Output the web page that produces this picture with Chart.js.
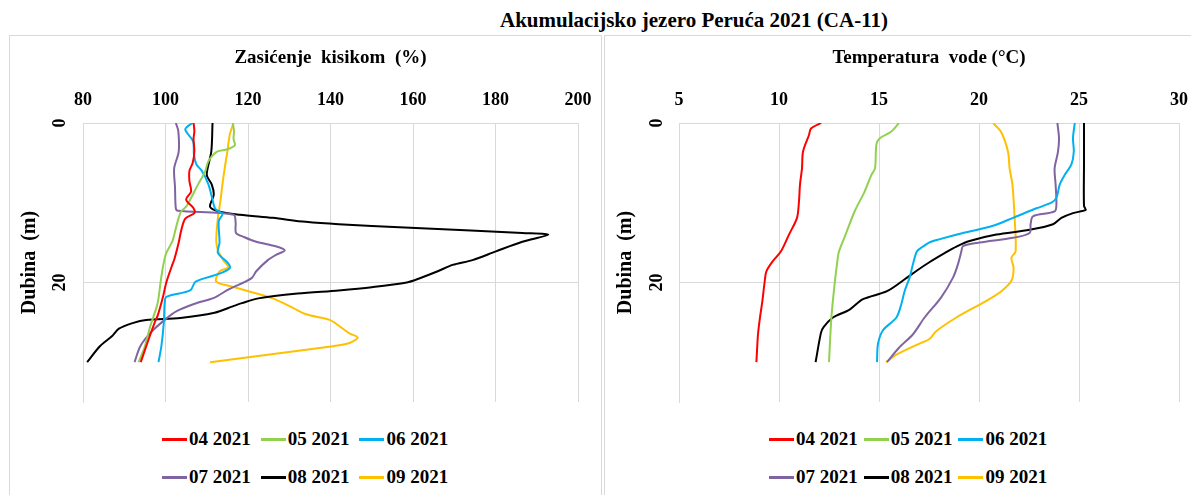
<!DOCTYPE html>
<html>
<head>
<meta charset="utf-8">
<script src="https://cdn.jsdelivr.net/npm/chart.js@4.4.1/dist/chart.umd.min.js"></script>
<style>
  body { margin: 0; width: 1191px; height: 495px; background: #fff; overflow: hidden; position: relative;
         font-family: "Liberation Serif", "Times New Roman", serif; }
  #title { position: absolute; left: 444px; width: 500px; top: 8px; text-align: center; font-weight: bold; font-size: 21px; }
  .panel { position: absolute; top: 35px; height: 480px; border: 1px solid #d9d9d9; box-sizing: border-box; }
  canvas { position: absolute; top: 35px; }
  .legend { position: absolute; top: 427px; display: grid; grid-template-columns: repeat(3, auto);
            justify-content: center; row-gap: 14px; font-weight: bold; font-size: 19px; line-height: 24px; }
  .legend .item { display: flex; align-items: center; white-space: nowrap; }
  .legend i { display: inline-block; width: 25px; height: 3px; margin-right: 2px; }
</style>
</head>
<body>
<div id="title">Akumulacijsko jezero Peruća 2021 (CA-11)</div>
<div class="panel" style="left:9px; width:593px;"></div>
<div class="panel" style="left:604px; width:600px;"></div>
<canvas id="chart-oxygen" width="592" height="375" style="left:9px;"></canvas>
<canvas id="chart-temp" width="587" height="375" style="left:604px;"></canvas>
<div class="legend" id="legend-oxygen" style="left:9px; width:592px; column-gap:10px;"></div>
<div class="legend" id="legend-temp" style="left:608px; width:600px; column-gap:6px;"></div>

<script>
// --- Sarjat ---
const seriesNames = ["04 2021", "05 2021", "06 2021", "07 2021", "08 2021", "09 2021"];
const seriesColors = ["#ff0000", "#92d050", "#00b0f0", "#8064a2", "#000000", "#ffc000"];

const oxyTicks = [80, 100, 120, 140, 160, 180, 200];
const tempTicks = [5, 10, 15, 20, 25, 30];
const depthTicks = [0, 20];

// --- Zasićenje kisikom (%) ---
const oxyDepth04 = [0, 1, 2, 3.5, 5, 6, 7.3, 8.6, 9.6, 10.7, 11.3, 12, 13.5, 15, 17, 18, 20, 22, 24, 25, 27, 28.5, 30];
const oxy04 = [106.8, 107.0, 106.8, 107.0, 106.6, 105.8, 105.8, 106.2, 105.0, 106.8, 107.0, 104.8, 103.8, 103.2, 102.2, 101.5, 100.2, 99.3, 98.2, 97.4, 96.0, 95.0, 94.0];

const oxyDepth05 = [0, 1, 2, 2.8, 3.3, 3.6, 4.8, 6.1, 7.7, 9.4, 10.5, 11.1, 11.9, 13, 14.8, 16.3, 18, 20, 22, 23, 25.5, 28, 30];
const oxy05 = [116.3, 116.6, 116.5, 116.8, 115.0, 112.5, 110.4, 109.6, 107.9, 106.2, 105.0, 103.8, 103.2, 102.6, 101.7, 100.2, 99.4, 98.8, 98.3, 97.9, 96.3, 95.0, 93.5];

const oxyDepth06 = [0, 0.8, 2.3, 4, 5.2, 6, 7.7, 9.4, 10.8, 11.4, 12.3, 15, 16.3, 17.6, 18.2, 18.9, 19.9, 21, 21.8, 22.6, 25, 28, 30];
const oxy06 = [106.5, 104.8, 106.7, 106.9, 107.5, 108.8, 110.4, 111.3, 112.1, 113.8, 112.9, 113.1, 112.7, 115.2, 115.6, 113.1, 107.3, 106.0, 100.2, 99.8, 99.6, 99.0, 98.3];

const oxyDepth07 = [0, 1, 3.6, 5.7, 8, 10.7, 11.0, 11.5, 12.5, 13.8, 14.3, 14.9, 15.5, 16.0, 16.5, 17.2, 18.6, 19.5, 20.9, 21.9, 22.7, 23.6, 24.7, 26.3, 28, 30];
const oxy07 = [102.5, 103.1, 103.2, 102.1, 102.3, 102.5, 103.0, 116.5, 117.0, 117.1, 119.0, 122.0, 126.9, 128.9, 126.9, 124.8, 122.0, 120.8, 115.2, 111.9, 106.9, 102.7, 99.8, 96.4, 93.9, 92.5];

const oxyDepth08 = [0, 3.6, 6.5, 7.7, 9, 10.5, 11.1, 11.5, 11.9, 12.4, 12.7, 13.1, 13.5, 13.8, 14.0, 14.9, 16.1, 17.2, 17.8, 18.6, 19.5, 20.0, 20.6, 21.0, 21.4, 22.0, 22.6, 23.0, 23.8, 24.45, 24.7, 25.1, 25.8, 26.75, 28, 30];
const oxy08 = [111.4, 111.1, 110.0, 111.2, 111.7, 110.8, 113.0, 118, 126, 134, 142, 158, 174, 186.5, 192.8, 186.5, 180.1, 174.4, 169.6, 166.0, 161.5, 158.5, 150, 142, 132, 122.5, 118.5, 116.3, 111.9, 103.6, 95.3, 92.0, 88.7, 87.0, 84.1, 81.0];

const oxyDepth09 = [0, 1.4, 3.6, 5.5, 7.7, 9.8, 11.9, 14.8, 16.1, 17.2, 18.1, 18.6, 19.9, 20.5, 20.8, 22, 23.2, 24, 24.7, 25.5, 26.4, 26.9, 27.6, 28, 30];
const oxy09 = [116.5, 115.6, 115.0, 114.4, 113.8, 113.3, 112.7, 112.3, 112.8, 114.0, 115.2, 113.1, 112.3, 116.0, 118.0, 126.0, 130.9, 134.1, 139.8, 142.2, 144.6, 146.6, 144.6, 140.6, 110.8];

// --- Temperatura vode (°C) ---
const tempDepth04 = [0, 0.7, 1.5, 3.6, 5.7, 7.7, 9.8, 11.9, 14, 16.1, 17.3, 18.6, 20, 22.3, 24.4, 26.5, 28.6, 30];
const temp04 = [12.1, 11.6, 11.5, 11.2, 11.15, 11.05, 11.0, 10.9, 10.5, 10.1, 9.7, 9.37, 9.28, 9.17, 9.05, 8.95, 8.9, 8.87];

const tempDepth05 = [0, 1.1, 1.9, 2.7, 5.7, 6.5, 8.6, 11.1, 14, 16.1, 17.3, 20.2, 24.4, 30];
const temp05 = [16.0, 15.6, 15.04, 14.87, 14.8, 14.62, 14.28, 13.78, 13.33, 13.0, 12.92, 12.78, 12.62, 12.5];

const tempDepth06 = [0, 1.9, 3.6, 5.2, 6.5, 7.7, 9.4, 10.0, 10.7, 11.9, 12.9, 13.8, 14.6, 15.0, 15.5, 16.1, 17.7, 19.4, 21.1, 22.7, 24.4, 26.0, 27.7, 30];
const temp06 = [24.79, 24.7, 24.74, 24.62, 24.29, 24.04, 23.87, 23.62, 22.87, 21.7, 20.7, 19.2, 18.0, 17.5, 17.2, 16.9, 16.7, 16.53, 16.28, 16.12, 15.87, 15.2, 14.95, 14.9];

const tempDepth07 = [0, 1.9, 3.6, 5.7, 7.7, 10.2, 11.1, 11.7, 12.7, 13.8, 14.4, 15.0, 15.45, 16.1, 17.7, 19.4, 21.9, 24.4, 26.5, 28.2, 30];
const temp07 = [23.92, 24.0, 23.95, 23.78, 23.83, 23.87, 23.78, 22.7, 22.58, 22.53, 21.7, 20.03, 19.2, 19.12, 18.95, 18.7, 18.1, 17.28, 16.7, 16.0, 15.4];

const tempDepth08 = [0, 5, 10.4, 10.9, 11.3, 11.9, 12.7, 13.4, 14.0, 14.8, 15.5, 16.3, 17.5, 18.5, 19.4, 21.1, 22.1, 23.4, 24.4, 25.6, 26.3, 30];
const temp08 = [25.25, 25.25, 25.25, 25.33, 24.7, 24.12, 23.7, 22.53, 20.87, 19.53, 18.87, 18.3, 17.5, 16.9, 16.4, 15.4, 14.2, 13.53, 12.7, 12.23, 12.1, 11.83];

const tempDepth09 = [0, 1.1, 3.6, 5.7, 7.7, 11.9, 16.1, 16.9, 18.2, 19.8, 21.1, 22.3, 24.4, 26.1, 27.1, 27.7, 29, 30];
const temp09 = [20.7, 21.1, 21.45, 21.53, 21.67, 21.78, 21.83, 21.62, 21.73, 21.62, 21.12, 20.37, 18.87, 17.87, 17.53, 17.0, 15.92, 15.35];

const oxyDepths = [oxyDepth04, oxyDepth05, oxyDepth06, oxyDepth07, oxyDepth08, oxyDepth09];
const oxyValues = [oxy04, oxy05, oxy06, oxy07, oxy08, oxy09];
const tempDepths = [tempDepth04, tempDepth05, tempDepth06, tempDepth07, tempDepth08, tempDepth09];
const tempValues = [temp04, temp05, temp06, temp07, temp08, temp09];

const FONT = "'Liberation Serif', 'Times New Roman', serif";
const GRID = "#d9d9d9";

function toPoints(depths, values) {
  return values.map((v, i) => ({ x: v, y: depths[i] }));
}

function makeChart(id, opts) {
  const ctx = document.getElementById(id).getContext("2d");
  return new Chart(ctx, {
    type: "scatter",
    data: {
      datasets: seriesNames.map((name, i) => ({
        label: name,
        data: toPoints(opts.depths[i], opts.values[i]),
        showLine: true,
        borderColor: seriesColors[i],
        backgroundColor: seriesColors[i],
        borderWidth: 2,
        pointRadius: 0,
        tension: 0.3
      }))
    },
    options: {
      responsive: false,
      animation: false,
      layout: { padding: { left: 0, right: opts.rightPad, top: 0, bottom: 8 } },
      plugins: { legend: { display: false }, tooltip: { enabled: false } },
      scales: {
        x: {
          type: "linear",
          position: "top",
          min: opts.xTicks[0],
          max: opts.xTicks[opts.xTicks.length - 1],
          afterBuildTicks: s => { s.ticks = opts.xTicks.map(v => ({ value: v })); },
          afterFit: s => { s.height = 88; s.paddingLeft = 0; s.paddingRight = 0; },
          grid: { color: GRID, drawTicks: false },
          border: { color: GRID },
          ticks: { padding: 12, color: "#000", font: { family: FONT, size: 18, weight: "bold" } },
          title: {
            display: true, text: opts.xTitle, color: "#000",
            padding: { top: 12, bottom: 0 },
            font: { family: FONT, size: 19, weight: "bold" }
          }
        },
        y: {
          type: "linear",
          reverse: true,
          min: 0,
          max: 35,
          afterBuildTicks: s => { s.ticks = depthTicks.map(v => ({ value: v })); },
          afterFit: s => { s.width = opts.yWidth; s.paddingTop = 0; s.paddingBottom = 0; },
          grid: { color: GRID, drawTicks: false },
          border: { color: GRID },
          ticks: {
            padding: opts.yTickPad, minRotation: 90, maxRotation: 90, crossAlign: "center",
            color: "#000", font: { family: FONT, size: 18, weight: "bold" }
          },
          title: {
            display: true, text: "Dubina  (m)", color: "#000",
            padding: { top: opts.yTitlePad, bottom: 0 },
            font: { family: FONT, size: 20, weight: "bold" }
          }
        }
      }
    }
  });
}

function buildLegend(id) {
  const box = document.getElementById(id);
  seriesNames.forEach((name, i) => {
    const item = document.createElement("span");
    item.className = "item";
    item.innerHTML = `<i style="background:${seriesColors[i]}"></i>${name}`;
    box.appendChild(item);
  });
}

makeChart("chart-oxygen", {
  xTitle: "Zasićenje  kisikom  (%)", xTicks: oxyTicks,
  depths: oxyDepths, values: oxyValues,
  yWidth: 74, yTickPad: 14, yTitlePad: 9, rightPad: 23
});
makeChart("chart-temp", {
  xTitle: "Temperatura  vode (°C)", xTicks: tempTicks,
  depths: tempDepths, values: tempValues,
  yWidth: 75, yTickPad: 13, yTitlePad: 10, rightPad: 12
});

buildLegend("legend-oxygen");
buildLegend("legend-temp");
</script>
</body>
</html>
